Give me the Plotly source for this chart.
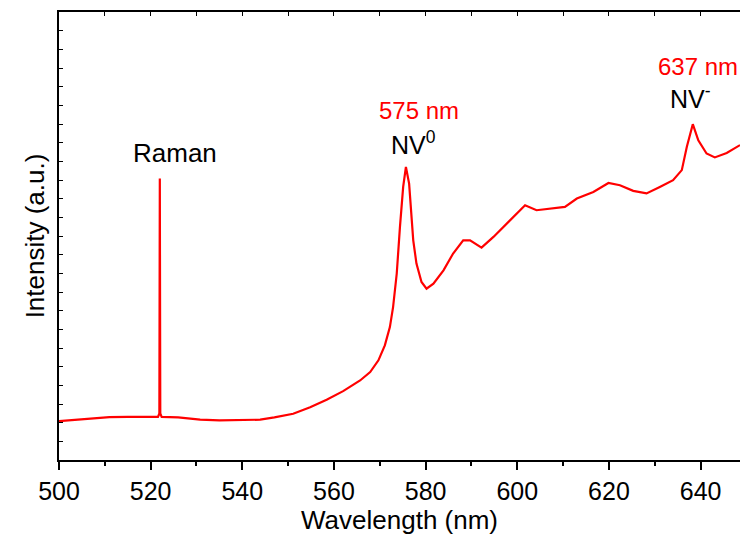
import plotly.graph_objects as go

# Wavelength (nm) and intensity (a.u.)
wavelength = [500.0, 502.0, 504.6, 508.0, 511.0, 515.0, 519.9, 521.6, 521.9, 522.0, 522.1, 522.4,
              526.0, 530.8, 535.0, 541.7, 543.9, 547.0, 551.1, 554.8, 558.4, 562.0, 565.7, 567.9,
              569.7, 571.1, 572.2, 572.9, 573.7, 574.4, 575.1, 575.7, 576.4, 577.3, 578.0, 579.1,
              580.2, 581.7, 583.9, 586.0, 588.2, 589.7, 592.2, 594.8, 597.7, 599.9, 601.7, 604.2,
              607.1, 610.4, 613.0, 616.6, 619.9, 622.4, 625.3, 628.2, 631.1, 634.0, 635.9, 637.0,
              638.3, 639.5, 641.3, 643.1, 645.7, 648.2, 648.6]
intensity = [208, 212, 221, 225, 230, 231, 230, 231, 249, 1508, 249, 231,
             228, 216, 212, 212, 216, 228, 248, 283, 323, 369, 426, 471,
             534, 614, 712, 819, 999, 1249, 1463, 1570, 1481, 1177, 1052, 954,
             918, 945, 1016, 1106, 1177, 1177, 1138, 1195, 1267, 1320, 1365, 1338,
             1347, 1356, 1401, 1436, 1484, 1472, 1442, 1428, 1463, 1499, 1553, 1678,
             1799, 1713, 1642, 1621, 1645, 1678, 1687]

x_range = [500, 648.6]
y_range = [0, 2400]

FONT = "Arial, Liberation Sans, sans-serif"

fig = go.Figure()
fig.add_trace(go.Scatter(x=wavelength, y=intensity, mode="lines",
                         line=dict(color="#ff0000", width=2.2), showlegend=False,
                         hoverinfo="skip"))
# empty trace to anchor the top axis
fig.add_trace(go.Scatter(x=[None], y=[None], xaxis="x2", showlegend=False, hoverinfo="skip"))

annotations = [
    dict(text="Raman", x=525.3, y=1644, color="black", size=26),
    dict(text="575 nm", x=578.5, y=1872, color="#ff0000", size=24),
    dict(text="NV<sup>0</sup>", x=577.4, y=1700, color="black", size=25),
    dict(text="637 nm", x=639.4, y=2110, color="#ff0000", size=24),
    dict(text="NV<sup>-</sup>", x=637.9, y=1945, color="black", size=25),
]
for a in annotations:
    fig.add_annotation(x=a["x"], y=a["y"], xref="x", yref="y", text=a["text"],
                       showarrow=False, xanchor="center", yanchor="middle",
                       font=dict(family=FONT, size=a["size"], color=a["color"]))

fig.update_layout(
    width=740, height=540,
    margin=dict(l=59, r=0, t=12, b=80),
    paper_bgcolor="white", plot_bgcolor="white",
    font=dict(family=FONT, color="black"),
    xaxis=dict(range=x_range, dtick=20, tick0=500, ticks="outside", ticklen=8, tickwidth=1.5,
               tickcolor="black", showline=True, linecolor="black", linewidth=2,
               showgrid=False, zeroline=False,
               minor=dict(ticks="outside", ticklen=4, dtick=10, tick0=500, tickcolor="black",
                          tickwidth=1.5, showgrid=False),
               tickfont=dict(size=25, family=FONT),
               title=dict(text="Wavelength (nm)", font=dict(size=26, family=FONT), standoff=6)),
    xaxis2=dict(range=x_range, overlaying="x", side="top", anchor="y", dtick=10, tick0=500,
                ticks="inside", ticklen=4, tickwidth=1.2, tickcolor="black",
                showline=True, linecolor="black", linewidth=2, showticklabels=False,
                showgrid=False, zeroline=False),
    yaxis=dict(range=y_range, dtick=100, tick0=0, ticks="inside", ticklen=4, tickwidth=1.2,
               tickcolor="black", showline=True, linecolor="black", linewidth=2,
               showticklabels=False, showgrid=False, zeroline=False,
               title=dict(text="Intensity (a.u.)", font=dict(size=26, family=FONT), standoff=5)),
)

# remove the browser's default 8 px page margin so the 740x540 figure fills the window
fig.write_html("out.html",
               config={"displayModeBar": False},
               post_script="document.body.style.margin='0';"
                           "document.documentElement.style.overflow='hidden';")
